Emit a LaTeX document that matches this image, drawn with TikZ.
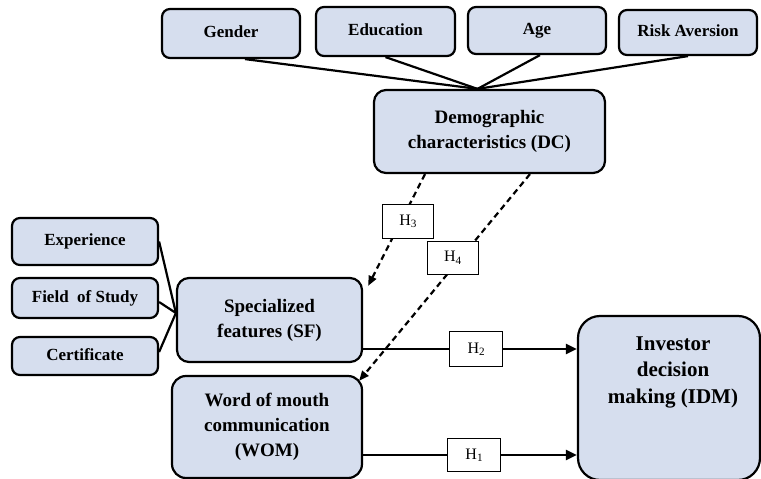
\documentclass[tikz,border=0pt]{standalone}
\usepackage{fontspec}
\setmainfont{Liberation Serif}
\usetikzlibrary{arrows.meta}
\definecolor{boxfill}{RGB}{214,222,238}
\begin{document}
\begin{tikzpicture}[x=1pt,y=-1pt,
  box/.style={draw=black, line width=2.2pt, fill=boxfill, rounded corners=#1, inner sep=0pt, align=center},
  box/.default=8pt,
  smallfont/.style={font=\bfseries\fontsize{17}{20}\selectfont, text height=12pt, text depth=3.5pt},
  midfont/.style={font=\bfseries\fontsize{19}{25}\selectfont},
  bigfont/.style={font=\bfseries\fontsize{21}{26.5}\selectfont},
  hbox/.style={draw=black, solid, line width=1.1pt, fill=white, inner sep=0pt, font=\fontsize{16}{18}\selectfont, text height=11pt, text depth=3pt},
  link/.style={line width=2.2pt},
  solidarrow/.style={line width=2.6pt, -{Triangle[length=11pt,width=10pt]}},
  dasharrow/.style={line width=2.2pt, dash pattern=on 6pt off 4pt, -{Triangle[length=10pt,width=8pt]}}
]
\useasboundingbox (0,0) rectangle (761,479);

% top boxes
\node[box, smallfont, minimum width=138pt, minimum height=49pt] (gender) at (231,33.5) {Gender};
\node[box, smallfont, minimum width=139pt, minimum height=49pt] (education) at (385.5,31.5) {Education};
\node[box, smallfont, minimum width=138pt, minimum height=47pt] (age) at (537,30.5) {Age};
\node[box, smallfont, minimum width=138pt, minimum height=45pt] (risk) at (688,32.5) {Risk Aversion};

% DC
\node[box=12pt, midfont, minimum width=231pt, minimum height=83pt] (dc) at (489.5,131.5) {Demographic\\characteristics (DC)};

% left boxes
\node[box, smallfont, minimum width=146pt, minimum height=47pt] (exp) at (85,241.5) {Experience};
\node[box, smallfont, minimum width=146pt, minimum height=40pt] (field) at (85,298) {Field~ of Study};
\node[box, smallfont, minimum width=146pt, minimum height=38pt] (cert) at (85,356) {Certificate};

% SF, WOM
\node[box=12pt, midfont, minimum width=185pt, minimum height=84pt] (sf) at (269.5,320) {Specialized\\features (SF)};
\node[box=14pt, midfont, minimum width=190pt, minimum height=102pt] (wom) at (267,427) {Word of mouth\\communication\\(WOM)};

% IDM
\node[box=22pt, minimum width=182pt, minimum height=164pt] (idm) at (669,398) {};
\node[bigfont, align=center, inner sep=0pt] (idmtext) at (673,372) {Investor\\decision\\making (IDM)};

% top connectors
\coordinate (conv) at ([xshift=-12pt]dc.north);
\draw[link] ([xshift=14pt]gender.south) -- (conv);
\draw[link] (education.south) -- (conv);
\draw[link] ([xshift=3pt]age.south) -- (conv);
\draw[link] (risk.south) -- (conv);

% left connectors
\coordinate (sfin) at ([yshift=7pt]sf.west);
\draw[link] (exp.east) -- (sfin);
\draw[link] ([yshift=-4pt]field.east) -- (sfin);
\draw[link] ([yshift=4pt]cert.east) -- (sfin);

% solid arrows
\draw[solidarrow] ([yshift=-29pt]sf.east) coordinate (a2) -- (a2 -| idm.west)
  node[hbox, pos=0.53, minimum width=53pt, minimum height=35pt] (h2) {H\textsubscript{2}};
\draw[solidarrow] ([yshift=-28pt]wom.east) coordinate (a1) -- (a1 -| idm.west)
  node[hbox, pos=0.52, minimum width=53pt, minimum height=33pt] (h1) {H\textsubscript{1}};

% dashed arrows
\draw[dasharrow] ([xshift=-64.5pt]dc.south) -- ([xshift=5pt,yshift=-9pt]sf.north east)
  node[hbox, pos=0.42, xshift=7pt, minimum width=51pt, minimum height=34pt] (h3) {H\textsubscript{3}};
\draw[dasharrow] ([xshift=40.5pt]dc.south) -- ([xshift=-4pt,yshift=-6pt]wom.north east)
  node[hbox, pos=0.404, xshift=-8pt, minimum width=51pt, minimum height=33pt] (h4) {H\textsubscript{4}};
\end{tikzpicture}
\end{document}
